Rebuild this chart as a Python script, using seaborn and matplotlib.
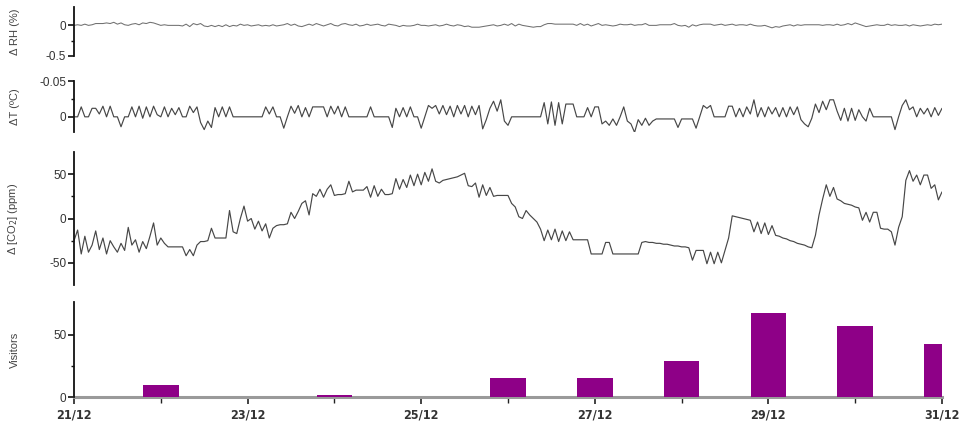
import numpy as np
import matplotlib
matplotlib.use("Agg")
import matplotlib.pyplot as plt
from matplotlib.ticker import FixedLocator, FuncFormatter
import seaborn as sns

# ---------------- data (hourly, 21/12 00:00 -> 31/12 00:00) ----------------
RH = [
    0.00, 0.01, 0.00, 0.02, 0.00, 0.01, 0.03, 0.03, 0.03, 0.04,
    0.03, 0.05, 0.02, 0.04, 0.01, 0.00, 0.02, 0.03, 0.01, 0.04,
    0.03, 0.05, 0.04, 0.02, 0.00, 0.01, 0.00, 0.00, 0.00, 0.00,
    -0.01, 0.02, -0.02, 0.03, 0.01, 0.03, -0.01, -0.02, 0.00, -0.02,
    0.00, -0.02, 0.01, -0.02, 0.00, -0.01, 0.02, 0.00, 0.01, -0.01,
    0.00, 0.01, -0.01, 0.00, -0.01, 0.01, -0.01, 0.00, 0.01, 0.03,
    0.00, 0.02, -0.01, -0.02, 0.00, 0.02, 0.00, 0.03, 0.01, -0.01,
    0.01, 0.03, 0.00, -0.01, 0.02, 0.03, 0.01, 0.00, 0.02, -0.01,
    0.00, 0.02, 0.00, 0.01, 0.02, 0.00, -0.01, 0.02, 0.01, 0.00,
    -0.02, 0.00, -0.01, -0.01, 0.00, 0.02, 0.00, 0.00, -0.01, 0.00,
    0.01, -0.01, 0.00, 0.02, 0.00, -0.01, 0.01, 0.00, -0.02, -0.01,
    -0.03, -0.03, -0.03, -0.02, -0.01, 0.00, 0.01, -0.01, 0.00, 0.02,
    0.00, 0.03, -0.01, 0.02, 0.00, -0.01, -0.02, -0.03, -0.02, -0.02,
    0.01, 0.03, 0.03, 0.02, 0.02, 0.02, 0.02, 0.02, 0.02, 0.00,
    0.03, 0.00, 0.02, -0.01, 0.01, 0.03, 0.00, 0.01, 0.00, -0.01,
    0.00, 0.02, 0.01, 0.01, 0.02, 0.00, 0.01, 0.01, 0.03, 0.00,
    0.00, 0.00, 0.01, 0.01, 0.01, 0.01, 0.03, 0.00, -0.01, 0.00,
    -0.03, 0.01, -0.01, 0.01, 0.02, 0.02, 0.02, 0.00, 0.01, 0.02,
    0.00, 0.01, 0.02, 0.00, 0.01, 0.01, 0.00, 0.02, 0.00, -0.01,
    -0.01, 0.00, -0.02, -0.04, -0.02, -0.03, -0.01, 0.00, 0.01, -0.01,
    0.01, 0.00, 0.01, 0.01, 0.01, 0.01, 0.01, 0.00, 0.01, 0.01,
    0.00, 0.02, 0.00, 0.01, 0.03, 0.01, 0.04, 0.02, 0.00, -0.02,
    -0.01, 0.00, 0.01, 0.00, 0.00, 0.02, 0.00, 0.01, 0.00, 0.00,
    0.01, -0.01, 0.01, 0.00, -0.01, 0.00, 0.01, 0.00, 0.02, 0.01,
    0.02,
]

DT = [
    0, 0, -0.014, 0, 0, -0.012, -0.012, -0.004, -0.015, 0,
    -0.015, 0, 0, 0.014, 0, 0, -0.014, 0, -0.015, 0.002,
    -0.014, 0, -0.015, -0.003, 0, -0.014, 0, -0.012, -0.003, -0.013,
    0, 0, -0.015, -0.006, -0.014, 0.008, 0.018, 0.006, 0.015, -0.013,
    0, -0.014, 0, -0.014, 0, 0, 0, 0, 0, 0,
    0, 0, 0, -0.014, -0.004, -0.014, 0, 0, 0.016, 0,
    -0.015, -0.005, -0.016, 0, -0.013, 0, -0.014, -0.014, -0.014, -0.014,
    0, -0.015, -0.004, -0.015, 0, -0.014, 0, 0, 0, 0,
    0, 0, -0.014, 0, 0, 0, 0, 0, 0.015, -0.012,
    0, -0.013, 0, -0.014, 0, 0, 0.016, 0, -0.016, -0.012,
    -0.016, -0.004, -0.016, -0.003, -0.015, 0, -0.016, -0.004, -0.016, 0,
    -0.015, -0.003, -0.016, 0.017, 0.004, -0.012, -0.022, -0.008, -0.024, 0.006,
    0.012, 0, 0, 0, 0, 0, 0, 0, 0, 0,
    -0.020, 0.010, -0.021, 0.012, -0.020, 0.010, -0.018, -0.018, -0.018, 0,
    0, 0, -0.013, 0, -0.014, -0.014, 0.010, 0.006, 0.012, 0.003,
    0.012, 0, -0.014, 0.006, 0.010, 0.022, 0.004, 0.012, 0.002, 0.012,
    0.006, 0.003, 0.003, 0.003, 0.003, 0.003, 0.003, 0.015, 0.003, 0.003,
    0.003, 0.003, 0.016, 0, -0.016, -0.012, -0.016, 0, 0, 0,
    0, -0.015, -0.015, 0, -0.012, 0, -0.014, -0.004, -0.024, 0,
    -0.013, 0, -0.014, -0.004, -0.013, 0, -0.013, 0, -0.014, -0.003,
    -0.014, 0.004, 0.010, 0.014, 0.002, -0.018, -0.006, -0.022, -0.010, -0.024,
    -0.024, -0.008, 0.005, -0.012, 0.006, -0.012, 0.005, -0.010, 0, 0.006,
    -0.012, 0, 0, 0, 0, 0, 0, 0.018, 0, -0.016,
    -0.024, -0.010, -0.014, 0, -0.012, -0.004, -0.012, 0, -0.013, -0.002,
    -0.012,
]

CO2 = [
    -25, -13, -40, -20, -38, -30, -14, -35, -22, -40,
    -25, -32, -38, -28, -36, -10, -30, -24, -38, -26,
    -34, -20, -5, -30, -22, -28, -32, -32, -32, -32,
    -32, -42, -35, -42, -30, -26, -26, -25, -11, -22,
    -22, -22, -22, 9, -15, -17, 0, 14, -3, 0,
    -12, -3, -14, -6, -22, -11, -8, -7, -7, -6,
    7, 0, 8, 17, 20, 4, 28, 25, 33, 24,
    33, 38, 26, 27, 27, 28, 42, 30, 32, 32,
    32, 36, 24, 37, 25, 33, 27, 27, 28, 45,
    33, 44, 35, 49, 37, 50, 38, 52, 42, 56,
    42, 40, 43, 44, 45, 46, 47, 49, 51, 37,
    36, 40, 24, 38, 26, 35, 25, 26, 26, 26,
    26, 17, 13, 2, 0, 9, 4, 0, -4, -12,
    -25, -13, -24, -12, -26, -14, -25, -15, -24, -24,
    -24, -24, -24, -40, -40, -40, -40, -27, -27, -40,
    -40, -40, -40, -40, -40, -40, -40, -27, -26, -27,
    -27, -28, -28, -29, -29, -30, -31, -31, -32, -32,
    -33, -47, -36, -36, -36, -51, -38, -51, -38, -50,
    -36, -22, 3, 2, 1, 0, -1, -2, -15, -4,
    -17, -5, -18, -8, -19, -20, -22, -23, -25, -26,
    -28, -29, -30, -32, -33, -19, 4, 22, 38, 25,
    35, 22, 20, 17, 16, 15, 13, 12, -2, 7,
    -4, 7, 7, -11, -12, -12, -15, -30, -10, 2,
    43, 54, 42, 49, 38, 49, 49, 34, 38, 21,
    30,
]

VISIT_DAYS = [1, 2, 3, 4, 5, 6, 7, 8, 9, 10]       # days after 21/12
VISITORS = [10, 0, 2, 0, 15, 15, 29, 68, 57, 43]

DATE_TICKS = [0, 2, 4, 6, 8, 10]
DATE_LABELS = ["21/12", "23/12", "25/12", "27/12", "29/12", "31/12"]

# ---------------- style ----------------
sns.set_theme(style="ticks")
plt.rcParams["font.family"] = ["Liberation Sans", "DejaVu Sans"]
plt.rcParams["axes.unicode_minus"] = False

W, H = 963, 432
fig = plt.figure(figsize=(W / 100, H / 100), dpi=100)


def ax_at(top_px, bottom_px, left_px=74, right_px=942):
    return fig.add_axes([left_px / W, 1 - bottom_px / H,
                         (right_px - left_px) / W, (bottom_px - top_px) / H])


ax_rh = ax_at(7, 56)
ax_t = ax_at(81, 132)
ax_c = ax_at(152, 285)
ax_v = ax_at(302, 397)

line_col = "#474747"
fmt = FuncFormatter(lambda v, p: "%g" % v)

t_rh = np.arange(len(RH)) / 24.0
t_dt = np.arange(len(DT)) / 24.0
t_c = np.arange(len(CO2)) / 24.0

sns.lineplot(x=t_rh, y=RH, ax=ax_rh, color="#707070", linewidth=0.75)
sns.lineplot(x=t_dt, y=DT, ax=ax_t, color=line_col, linewidth=0.85)
sns.lineplot(x=t_c, y=CO2, ax=ax_c, color=line_col, linewidth=0.85)
sns.barplot(x=VISIT_DAYS, y=VISITORS, ax=ax_v, native_scale=True, width=0.41,
            color="#8e0087", saturation=1, errorbar=None, zorder=3,
            edgecolor="none", linewidth=0)

# common
for ax in (ax_rh, ax_t, ax_c, ax_v):
    ax.set_xlim(0, 10)
    ax.set_facecolor("none")
    for s in ("top", "right"):
        ax.spines[s].set_visible(False)
    ax.spines["left"].set_color("#111111")
    ax.spines["left"].set_linewidth(1.3)
    ax.tick_params(axis="y", which="major", length=4, width=1.2, color="#111111",
                   labelsize=8.5, labelcolor="#333333", pad=1.5)
    ax.tick_params(axis="y", which="minor", length=2.5, width=1.0, color="#111111")
    ax.yaxis.set_major_formatter(fmt)
    ax.set_xlabel("")

for ax in (ax_rh, ax_t, ax_c):
    ax.spines["bottom"].set_visible(False)
    ax.set_xticks([])
    ax.tick_params(axis="x", which="both", bottom=False, labelbottom=False)

# RH
ax_rh.set_ylim(-0.5, 0.3)
ax_rh.yaxis.set_major_locator(FixedLocator([-0.5, 0]))
ax_rh.yaxis.set_minor_locator(FixedLocator([-0.25]))
ax_rh.set_ylabel("Δ RH (%)")

# dT (axis drawn inverted as in the original)
ax_t.set_ylim(0.0214, -0.0505)
ax_t.yaxis.set_major_locator(FixedLocator([-0.05, 0]))
ax_t.yaxis.set_minor_locator(FixedLocator([-0.025]))
ax_t.set_ylabel("ΔT (ºC)")

# CO2
ax_c.set_ylim(-75, 75)
ax_c.yaxis.set_major_locator(FixedLocator([-50, 0, 50]))
ax_c.yaxis.set_minor_locator(FixedLocator([-25, 25]))
ax_c.set_ylabel("Δ [CO$_2$] (ppm)")

# Visitors
ax_v.set_ylim(0, 76.6)
ax_v.yaxis.set_major_locator(FixedLocator([0, 50]))
ax_v.yaxis.set_minor_locator(FixedLocator([25]))
ax_v.set_ylabel("Visitors")
ax_v.spines["bottom"].set_color("#9a9a9a")
ax_v.spines["bottom"].set_linewidth(2.2)
ax_v.spines["bottom"].set_zorder(2)
ax_v.set_xticks(DATE_TICKS)
ax_v.set_xticks([1, 3, 5, 7, 9], minor=True)
ax_v.set_xticklabels(DATE_LABELS)
ax_v.tick_params(axis="x", which="major", length=5, width=1.2, color="#222222", pad=3)
ax_v.tick_params(axis="x", which="minor", length=4, width=1.0, color="#222222")
for lab in ax_v.get_xticklabels():
    lab.set_family(["DejaVu Sans"])
    lab.set_fontstretch("condensed")
    lab.set_fontweight("bold")
    lab.set_fontsize(9)
    lab.set_color("#333333")

for ax in (ax_rh, ax_t, ax_c, ax_v):
    ax.yaxis.label.set_fontsize(8)
    ax.yaxis.label.set_color("#444444")
    ax.yaxis.set_label_coords(-0.062, 0.5)

fig.savefig("out.png", dpi=100)
